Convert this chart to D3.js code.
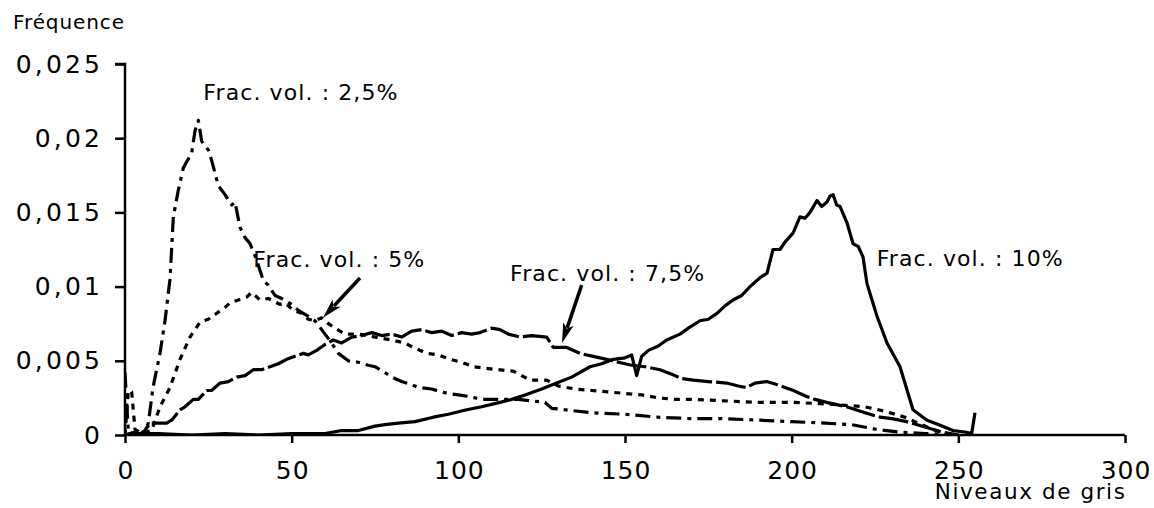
<!DOCTYPE html>
<html><head><meta charset="utf-8">
<script src="https://cdn.jsdelivr.net/npm/d3@7"></script>
<style>
html,body{margin:0;padding:0;background:#fff;}
svg{display:block;font-family:"DejaVu Sans",Verdana,sans-serif;}
</style></head>
<body>
<svg id="chart" width="1154" height="508"></svg>
<script>
// ---- data (grey level, frequency) ----
const xTicks = [0, 50, 100, 150, 200, 250, 300];
const yTicks = [0, 0.005, 0.01, 0.015, 0.02, 0.025];
const yTickLabels = ["0", "0,005", "0,01", "0,015", "0,02", "0,025"];
const xTitle = "Niveaux de gris";
const yTitle = "Fréquence";

const frac25 = [[0,0.0042],[1,0.0002],[2,0.0001],[4,0],[6,0.0003],[7,0.0008],[8.4,0.0032],[10.5,0.0055],[12,0.0077],[13.5,0.0105],[14.5,0.0147],[16,0.0165],[17.5,0.018],[20,0.019],[21,0.0205],[22,0.0212],[23,0.0198],[25,0.0192],[26,0.0185],[28,0.0168],[30,0.0162],[32,0.0155],[33,0.0157],[34.5,0.014],[36,0.0133],[37.5,0.0129],[39.5,0.0118],[41.5,0.0104],[43,0.0101],[45,0.0094],[47,0.0092],[50,0.0088],[52,0.0084],[55,0.008],[57,0.0077],[60,0.0068],[62,0.0062],[64,0.0055],[67,0.005],[70,0.0049],[73,0.0047],[75,0.0046],[78,0.0042],[80,0.0039],[83,0.0036],[86,0.0034],[88,0.0032],[92,0.0031],[95,0.0029],[97,0.0028],[100,0.0027],[103,0.0026],[107,0.0024],[112,0.0024],[118,0.0024],[122,0.0023],[126,0.0022],[128,0.0018],[132,0.0017],[140,0.0015],[150,0.0014],[160,0.0012],[170,0.0011],[180,0.0011],[190,0.001],[200,0.0009],[210,0.0008],[218,0.0007],[225,0.0004],[232,0.0002],[240,0.0001],[250,0]];

const frac5 = [[0,0],[1,0.003],[2,0.0029],[3,0.0004],[5,0.0001],[8,0.0003],[10.5,0.0019],[13.5,0.0032],[16.5,0.0051],[19.5,0.0066],[22.5,0.0076],[25,0.0078],[27.5,0.0082],[30,0.0086],[31.5,0.0089],[34,0.0091],[36.5,0.0093],[38,0.0096],[40.5,0.0091],[43,0.0092],[46.5,0.0088],[48,0.0089],[50.5,0.0084],[53,0.0082],[55,0.0078],[57,0.0077],[59,0.0079],[61,0.0075],[63,0.0072],[66,0.0068],[70,0.0068],[75,0.0066],[80,0.0064],[84,0.0062],[86.5,0.0059],[90.5,0.0055],[94,0.0054],[97.5,0.0051],[101,0.0049],[104.5,0.0046],[108,0.0045],[112,0.0044],[116.5,0.0043],[119,0.004],[121.5,0.0037],[126.5,0.0037],[130,0.0033],[135,0.0031],[140,0.003],[145,0.0029],[150,0.0028],[155,0.0027],[160,0.0025],[165,0.0024],[170,0.0024],[180,0.0023],[190,0.0022],[200,0.0022],[210,0.0021],[216,0.002],[222,0.0019],[228,0.0016],[234,0.0012],[238,0.0008],[242,0.0004],[246,0.0001],[250,0]];

const frac75 = [[0,0],[3,0.0002],[5,0],[7.5,0.0008],[10,0.0008],[12.5,0.0008],[14,0.001],[16.5,0.0017],[18,0.0019],[20.5,0.0024],[22,0.0024],[24.5,0.003],[26,0.003],[28.5,0.0035],[31,0.0036],[33.5,0.0039],[36,0.004],[38.5,0.0044],[41,0.0044],[43.5,0.0046],[46,0.0048],[48.5,0.0051],[51,0.0053],[53.5,0.0055],[55,0.0054],[57.5,0.0057],[60,0.0061],[62.5,0.0064],[65,0.0062],[68,0.0066],[71,0.0067],[74,0.0069],[77,0.0067],[80,0.0068],[83,0.0066],[86,0.007],[89,0.0071],[92,0.0069],[95,0.007],[98,0.0067],[101,0.0069],[104,0.0068],[106.5,0.0069],[110,0.0072],[112.5,0.0071],[115,0.0068],[118.5,0.0066],[122,0.0067],[126.5,0.0066],[128.5,0.0059],[132.5,0.0059],[136.5,0.0055],[140.5,0.0053],[144.5,0.0051],[148,0.0049],[152,0.0047],[156,0.0046],[160.5,0.0044],[164,0.0041],[167,0.0038],[170.5,0.0037],[175,0.0036],[180.5,0.0035],[184,0.0033],[186.5,0.0032],[189,0.0035],[192.5,0.0036],[195.5,0.0034],[198,0.0032],[200.5,0.003],[204.5,0.0026],[207,0.0024],[210.5,0.0022],[216.5,0.0019],[222,0.0015],[226.5,0.0012],[230,0.0011],[234.5,0.0009],[240.5,0.0005],[245,0.0002],[250,0]];

const frac10 = [[0,0],[3,0.0001],[10,0.0001],[20,0],[30,0.0001],[40,0],[50,0.0001],[60,0.0001],[65,0.0003],[70,0.0003],[75,0.0006],[78,0.0007],[82,0.0008],[87,0.0009],[92.5,0.0012],[97,0.0014],[102.5,0.0017],[107,0.0019],[112.5,0.0022],[116,0.0024],[120,0.0027],[125,0.0031],[129.5,0.0035],[134,0.0039],[139.5,0.0046],[143,0.0048],[146.5,0.0051],[150,0.0052],[152,0.0054],[153.5,0.004],[155,0.0053],[157,0.0057],[160,0.006],[162.5,0.0064],[166.5,0.0068],[169,0.0072],[172.5,0.0077],[175,0.0078],[177.6,0.0082],[180,0.0087],[182.4,0.0091],[185,0.0094],[187.5,0.01],[190.5,0.0106],[192.6,0.0109],[194.4,0.0125],[196.5,0.0125],[198,0.013],[200.4,0.0136],[202.5,0.0147],[204,0.0146],[205.5,0.015],[207.6,0.0158],[209,0.0154],[210.6,0.0157],[211.5,0.0161],[212.4,0.0162],[213.5,0.0155],[214.5,0.0154],[216.6,0.0143],[218.4,0.0129],[220,0.0127],[221.4,0.012],[222.6,0.0102],[225.6,0.008],[228.6,0.0062],[232.5,0.0046],[236.4,0.0017],[240.6,0.001],[244,0.0007],[248.4,0.0003],[252,0.0002],[254,0.0001],[255,0.0015]];

const labels = ["Frac. vol. : 2,5%", "Frac. vol. : 5%", "Frac. vol. : 7,5%", "Frac. vol. : 10%"];

// ---- layout ----
const svg = d3.select("#chart");
const X0 = 125, X1 = 1125, Y0 = 435, Y1 = 64;
const x = d3.scaleLinear().domain([0, 300]).range([X0, X1]);
const y = d3.scaleLinear().domain([0, 0.025]).range([Y0, Y1]);

svg.append("defs").append("clipPath").attr("id","plot")
  .append("rect").attr("x", X0).attr("y", Y1 - 5).attr("width", X1 - X0).attr("height", Y0 - Y1 + 5);

// axes
const yAxis = d3.axisLeft(y).tickValues(yTicks).tickSize(10).tickPadding(15)
  .tickFormat((d, i) => yTickLabels[i]);
const gy = svg.append("g").attr("transform", `translate(${X0},0)`).call(yAxis);
gy.select(".domain").attr("d", `M-10,${Y1}H0V${Y0}`).attr("stroke","#000").attr("stroke-width",2.5).attr("fill","none");
gy.selectAll(".tick line").attr("stroke","#000").attr("stroke-width",2.5);
gy.selectAll(".tick text").attr("font-size", 25).attr("fill","#000")
  .attr("letter-spacing", "3.2px").attr("dx", "3.2px")
  .attr("font-family", "DejaVu Sans");

const xAxis = d3.axisBottom(x).tickValues(xTicks).tickSize(8).tickPadding(18).tickFormat(d => d);
const gx = svg.append("g").attr("transform", `translate(0,${Y0})`).call(xAxis);
gx.select(".domain").attr("d", `M${X0},0H${X1}`).attr("stroke","#000").attr("stroke-width",2.5).attr("fill","none");
gx.selectAll(".tick line").attr("stroke","#000").attr("stroke-width",2.5);
gx.selectAll(".tick text").attr("font-size", 25).attr("fill","#000")
  .attr("letter-spacing", "1px").attr("dx","0.5px")
  .attr("font-family", "DejaVu Sans");

// titles
svg.append("text").attr("x", 13).attr("y", 29).attr("font-size", 20)
  .attr("letter-spacing", "0.9px").text(yTitle);
svg.append("text").attr("x", X1 + 1.5).attr("y", 499).attr("font-size", 21.5)
  .attr("text-anchor","end").attr("letter-spacing", "1.6px").text(xTitle);

// curves
const line = d3.line().x(d => x(d[0])).y(d => y(d[1]));
const series = [
  {data: frac25, dash: "15,6,4,6"},
  {data: frac5, dash: "6,6"},
  {data: frac75, dash: "30,4"},
  {data: frac10, dash: null}
];
const gl = svg.append("g").attr("clip-path", "url(#plot)");
series.forEach(s => {
  gl.append("path").attr("d", line(s.data)).attr("fill","none")
    .attr("stroke","#000").attr("stroke-width",3.2)
    .attr("stroke-linejoin","round")
    .attr("stroke-dasharray", s.dash);
});

// annotation labels (positioned in data units)
const labelPos = [[23.5, 0.0226], [38.5, 0.0113], [115.5, 0.0104], [225.5, 0.0114]];
labels.forEach((t, i) => {
  svg.append("text").attr("x", x(labelPos[i][0])).attr("y", y(labelPos[i][1]))
    .attr("font-size", 22).attr("letter-spacing","1.1px").attr("fill","#000").text(t);
});

// arrows
const arrows = [
  {from: [70.5, 0.01058], to: [59.4, 0.0079]},
  {from: [137, 0.0101], to: [131.1, 0.0062]}
];
arrows.forEach(a => {
  const x1 = x(a.from[0]), y1 = y(a.from[1]), x2 = x(a.to[0]), y2 = y(a.to[1]);
  const ang = Math.atan2(y2 - y1, x2 - x1);
  const L = 20, W = 5.5;
  const bx = x2 - L * Math.cos(ang), by = y2 - L * Math.sin(ang);
  svg.append("line").attr("x1", x1).attr("y1", y1).attr("x2", bx + 4*Math.cos(ang)).attr("y2", by + 4*Math.sin(ang))
    .attr("stroke","#000").attr("stroke-width",3.5);
  const p1 = [bx + W * Math.sin(ang), by - W * Math.cos(ang)];
  const p2 = [bx - W * Math.sin(ang), by + W * Math.cos(ang)];
  svg.append("path").attr("d", `M${x2},${y2}L${p1[0]},${p1[1]}L${bx + 5*Math.cos(ang)},${by + 5*Math.sin(ang)}L${p2[0]},${p2[1]}Z`)
    .attr("fill","#000");
});
</script>
</body></html>
